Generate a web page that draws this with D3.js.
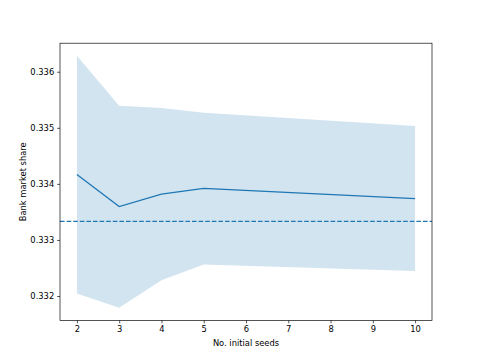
<!DOCTYPE html>
<html><head><meta charset="utf-8">
<script src="https://cdn.jsdelivr.net/npm/d3@7"></script>
<style>body{margin:0;background:#fff}svg{display:block}text{font-family:"DejaVu Sans",sans-serif;fill:#000}</style>
</head><body><svg id="c" width="480" height="360"></svg>
<script>
const seeds = [2, 3, 4, 5, 10];
const meanShare = [0.334168, 0.333596, 0.333816, 0.333918, 0.333739];
const upperShare = [0.336284, 0.335393, 0.335352, 0.335268, 0.335030];
const lowerShare = [0.332043, 0.331790, 0.332280, 0.332560, 0.332446];
const baseline = 1 / 3;
const xTicks = [2, 3, 4, 5, 6, 7, 8, 9, 10];
const yTicks = [0.332, 0.333, 0.334, 0.335, 0.336];

const data = seeds.map((s, i) => ({s, m: meanShare[i], lo: lowerShare[i], hi: upperShare[i]}));
const svg = d3.select("#c");
const L = 60, R = 432, T = 43.2, B = 320.4;
const FS = 8.33, TK = 2.9;
const x = d3.scaleLinear().domain([1.6, 10.4]).range([L, R]);
const yMin = d3.min(lowerShare), yMax = d3.max(upperShare), pad = (yMax - yMin) * 0.05;
const y = d3.scaleLinear().domain([yMin - pad, yMax + pad]).range([B, T]);
const col = "#1f77b4";

svg.append("path").datum(data)
  .attr("d", d3.area().x(d => x(d.s)).y0(d => y(d.lo)).y1(d => y(d.hi)))
  .attr("fill", col).attr("fill-opacity", 0.2);
svg.append("path").datum(data)
  .attr("d", d3.line().x(d => x(d.s)).y(d => y(d.m)))
  .attr("fill", "none").attr("stroke", col).attr("stroke-width", 1.25);
svg.append("line").attr("x1", L).attr("x2", R).attr("y1", y(baseline)).attr("y2", y(baseline))
  .attr("stroke", col).attr("stroke-width", 1.25).attr("stroke-dasharray", "4.6,2");

const xa = svg.append("g").attr("transform", `translate(0,${B})`)
  .call(d3.axisBottom(x).tickValues(xTicks).tickFormat(d3.format("d")).tickSizeInner(TK).tickSizeOuter(0).tickPadding(TK));
const ya = svg.append("g").attr("transform", `translate(${L},0)`)
  .call(d3.axisLeft(y).tickValues(yTicks).tickFormat(d3.format(".3f")).tickSizeInner(TK).tickSizeOuter(0).tickPadding(TK));
[xa, ya].forEach(g => {
  g.select(".domain").remove();
  g.selectAll("line").attr("stroke", "#000").attr("stroke-width", 0.67);
  g.selectAll("text").attr("font-size", FS).attr("font-family", "DejaVu Sans");
});
svg.append("rect").attr("x", L).attr("y", T).attr("width", R - L).attr("height", B - T)
  .attr("fill", "none").attr("stroke", "#000").attr("stroke-width", 0.67);

svg.append("text").attr("x", (L + R) / 2).attr("y", 346).attr("text-anchor", "middle")
  .attr("font-size", FS).text("No. initial seeds");
svg.append("text").attr("transform", `translate(26,${(T + B) / 2}) rotate(-90)`).attr("text-anchor", "middle")
  .attr("font-size", FS).text("Bank market share");
</script></body></html>
